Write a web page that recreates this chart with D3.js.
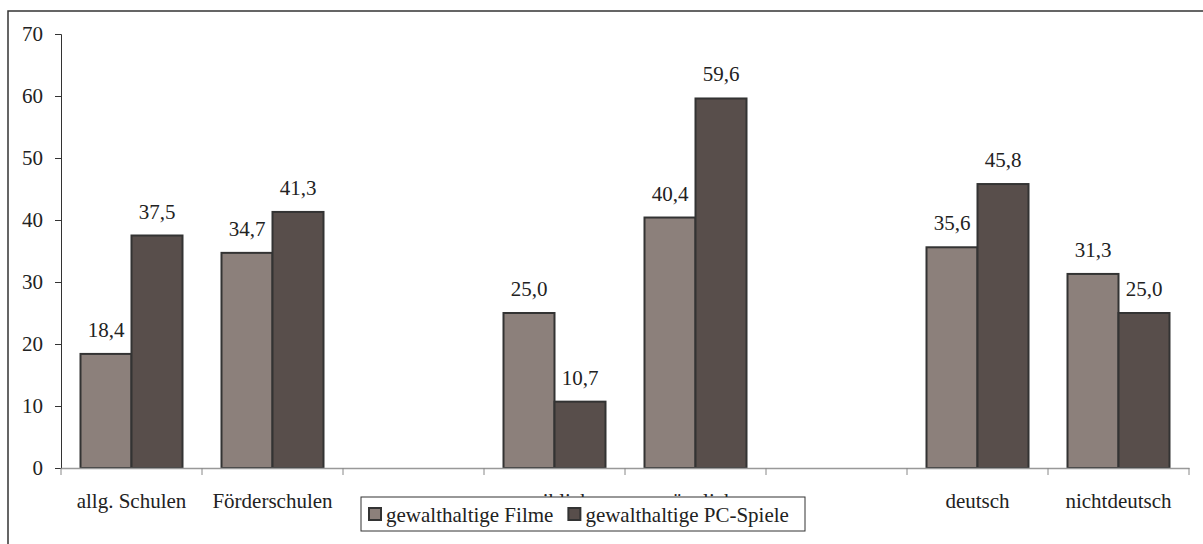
<!DOCTYPE html>
<html lang="de">
  <head>
    <meta charset="UTF-8" />
    <title>Gewalthaltige Medien</title>
    <script src="https://d3js.org/d3.v7.min.js"></script>
    <style>
      body { margin: 0; background: #fff; }
    </style>
  </head>
  <body>
    <script>
      // daten
      var kategorien = ["allg. Schulen", "Förderschulen", "", "weiblich", "männlich", "", "deutsch", "nichtdeutsch"];
      var filme = [18.4, 34.7, null, 25.0, 40.4, null, 35.6, 31.3];
      var pcSpiele = [37.5, 41.3, null, 10.7, 59.6, null, 45.8, 25.0];
      var serien = ["gewalthaltige Filme", "gewalthaltige PC-Spiele"];
      var farben = ["#8c807b", "#584e4b"];
      var yTicks = [0, 10, 20, 30, 40, 50, 60, 70];

      var w = 1203, h = 544;
      var x0 = 61, x1 = 1189, yTop = 34, yBottom = 468;
      var schrift = "'Liberation Serif', 'Times New Roman', serif";
      var groesse = "21px";

      var svg = d3.select("body").append("svg")
        .attr("width", w).attr("height", h);

      // rahmen
      svg.append("rect")
        .attr("x", 8).attr("y", 11)
        .attr("width", w).attr("height", h)
        .attr("fill", "none").attr("stroke", "#333").attr("stroke-width", 1.5);

      var x = d3.scaleBand().domain(d3.range(kategorien.length)).range([x0, x1]);
      var xInner = d3.scaleBand().domain([0, 1]).range([0, 102]);
      var y = d3.scaleLinear().domain([0, 70]).range([yBottom, yTop]);

      // y achse
      var yAxis = svg.append("g")
        .attr("transform", "translate(" + x0 + ",0)")
        .call(d3.axisLeft(y).tickValues(yTicks).tickSize(6).tickPadding(12).tickFormat(d3.format("d")));
      yAxis.selectAll("path, line").attr("stroke", "#333");
      yAxis.selectAll("text").attr("fill", "#222")
        .style("font-family", schrift).style("font-size", groesse);

      // balken
      var gruppen = svg.selectAll(".gruppe")
        .data(kategorien.map((k, i) => ({ i: i, werte: [filme[i], pcSpiele[i]] })))
        .enter().append("g")
        .attr("transform", (d) => "translate(" + (x(d.i) + (x.bandwidth() - 102) / 2) + ",0)");

      gruppen.selectAll("rect")
        .data((d) => d.werte.map((v, s) => ({ v: v, s: s })).filter((e) => e.v != null))
        .enter().append("rect")
        .attr("x", (d) => xInner(d.s))
        .attr("width", xInner.bandwidth())
        .attr("y", (d) => y(d.v))
        .attr("height", (d) => yBottom - y(d.v))
        .attr("fill", (d) => farben[d.s])
        .attr("stroke", "#333")
        .attr("stroke-width", 2);

      gruppen.selectAll("text.wert")
        .data((d) => d.werte.map((v, s) => ({ v: v, s: s })).filter((e) => e.v != null))
        .enter().append("text")
        .attr("class", "wert")
        .attr("x", (d) => xInner(d.s) + xInner.bandwidth() / 2)
        .attr("y", (d) => y(d.v) - 17)
        .attr("text-anchor", "middle")
        .attr("fill", "#222")
        .style("font-family", schrift).style("font-size", groesse)
        .text((d) => d3.format(".1f")(d.v).replace(".", ","));

      // x achse
      var xAxis = svg.append("g")
        .attr("transform", "translate(0," + yBottom + ")")
        .call(d3.axisBottom(x).tickSize(0).tickPadding(0).tickFormat((i) => kategorien[i]));
      xAxis.select("path").attr("stroke", "#999").attr("stroke-width", 1.5);
      xAxis.selectAll("text").attr("fill", "#222").attr("dy", "40px")
        .style("font-family", schrift).style("font-size", groesse);
      // trennstriche
      svg.append("g").selectAll("line")
        .data(d3.range(kategorien.length + 1))
        .enter().append("line")
        .attr("x1", (i) => x0 + i * x.step()).attr("x2", (i) => x0 + i * x.step())
        .attr("y1", yBottom).attr("y2", yBottom + 7)
        .attr("stroke", "#888");

      // legende (liegt wie im original über den beschriftungen)
      var leg = svg.append("g").attr("transform", "translate(361,497)");
      leg.append("rect").attr("width", 444).attr("height", 34)
        .attr("fill", "#fff").attr("stroke", "#333").attr("stroke-width", 1);
      var pos = 8;
      serien.forEach((s, i) => {
        var it = leg.append("g").attr("transform", "translate(" + pos + ",0)");
        it.append("rect").attr("x", 0).attr("y", 11).attr("width", 12).attr("height", 12)
          .attr("fill", farben[i]).attr("stroke", "#333").attr("stroke-width", 2);
        var t = it.append("text").attr("x", 17).attr("y", 25).attr("fill", "#222")
          .style("font-family", schrift).style("font-size", groesse).text(s);
        pos += 17 + t.node().getComputedTextLength() + 15;
      });
    </script>
  </body>
</html>
